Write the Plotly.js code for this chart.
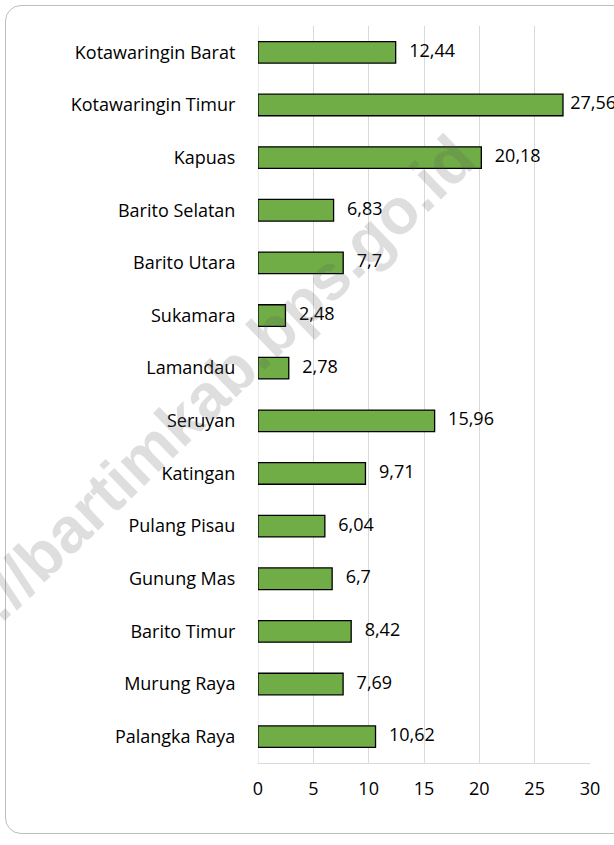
<!DOCTYPE html>
<html>
<head>
<meta charset="utf-8">
<script src="https://cdn.plot.ly/plotly-3.0.1.min.js"></script>
<style>
  html, body { margin: 0; padding: 0; background: #fff; overflow: hidden; }
  #wrap { position: relative; width: 614px; height: 845px; }
  #chart { position: absolute; left: 0; top: 0; width: 614px; height: 845px; }
  #frame { position: absolute; left: 5px; top: 5px; width: 640px; height: 829px;
           border: 1px solid #bdbdbd; border-radius: 16px; pointer-events: none; box-sizing: border-box; }
</style>
</head>
<body>
<div id="wrap">
  <div id="frame"></div>
  <div id="chart"></div>
</div>
<script>
const categories = [
  "Kotawaringin Barat", "Kotawaringin Timur", "Kapuas", "Barito Selatan",
  "Barito Utara", "Sukamara", "Lamandau", "Seruyan", "Katingan",
  "Pulang Pisau", "Gunung Mas", "Barito Timur", "Murung Raya", "Palangka Raya"
];
const values = [12.44, 27.56, 20.18, 6.83, 7.7, 2.48, 2.78, 15.96, 9.71, 6.04, 6.7, 8.42, 7.69, 10.62];
const xTicks = [0, 5, 10, 15, 20, 25, 30];
const watermark = "http://bartimkab.bps.go.id";

const labels = values.map(v => String(v).replace('.', ','));
const FONT = "'Open Sans', 'Noto Sans', sans-serif";

const bars = {
  type: 'bar', orientation: 'h',
  x: values, y: categories,
  width: 0.41,
  marker: { color: '#70AD47', line: { color: '#000000', width: 1.3 } },
  hoverinfo: 'skip', showlegend: false
};
const valueLabels = {
  type: 'scatter', mode: 'text+markers',
  x: values, y: categories,
  text: labels, textposition: 'middle right',
  // labels near the right edge sit a little closer to their bar
  marker: { size: values.map(v => v > 25 ? 10 : 20), opacity: 0 },
  textfont: { family: FONT, size: 18, color: '#000000' },
  cliponaxis: false, hoverinfo: 'skip', showlegend: false
};

const layout = {
  width: 614, height: 845,
  margin: { l: 258, r: 24, t: 26, b: 82 },
  paper_bgcolor: 'rgba(0,0,0,0)', plot_bgcolor: 'rgba(0,0,0,0)',
  font: { family: FONT, size: 18, color: '#000000' },
  xaxis: {
    range: [0, 30], tickvals: xTicks, ticktext: xTicks.map(String),
    showgrid: true, gridcolor: '#d9d9d9', gridwidth: 1,
    zeroline: false, showline: true, linecolor: '#d9d9d9', linewidth: 1,
    ticks: 'outside', ticklen: 9, tickcolor: 'rgba(0,0,0,0)',
    tickfont: { family: FONT, size: 18, color: '#000000' },
    fixedrange: true
  },
  yaxis: {
    type: 'category', categoryorder: 'array', categoryarray: categories,
    range: [13.5, -0.5], autorange: false,
    showgrid: false, zeroline: false,
    showline: false,
    ticks: 'outside', ticklen: 18, tickcolor: 'rgba(0,0,0,0)',
    tickfont: { family: FONT, size: 18, color: '#000000' },
    fixedrange: true
  },
  shapes: [{
    type: 'line', xref: 'x', yref: 'paper', x0: 0, x1: 0, y0: 0, y1: 1,
    line: { color: '#d9d9d9', width: 1 }, layer: 'below'
  }],
  annotations: [{
    xref: 'paper', yref: 'paper', x: -0.232, y: 0.465,
    xanchor: 'center', yanchor: 'middle',
    text: '<b>' + watermark + '</b>', showarrow: false, textangle: -44,
    font: { family: "'Liberation Sans', Arial, sans-serif", size: 64, color: 'rgba(90,90,90,0.2)' }
  }]
};

Plotly.newPlot('chart', [bars, valueLabels], layout, { staticPlot: true, displayModeBar: false });
</script>
</body>
</html>
